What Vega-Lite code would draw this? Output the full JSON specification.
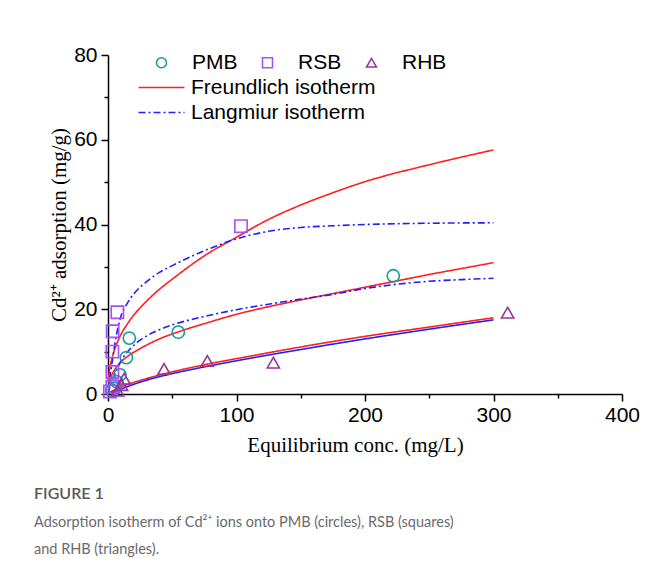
{
  "$schema": "https://vega.github.io/schema/vega-lite/v6.json",
  "autosize": {"type": "none"},
  "width": 514,
  "height": 339,
  "padding": {"left": 108, "top": 55, "right": 45, "bottom": 182},
  "background": "white",
  "title": {
    "text": "FIGURE 1",
    "subtitle": ["Adsorption isotherm of Cd²⁺ ions onto PMB (circles), RSB (squares)", "and RHB (triangles)."],
    "orient": "bottom",
    "anchor": "start",
    "frame": "group",
    "dx": -74,
    "offset": 31,
    "font": "Lato",
    "fontSize": 16,
    "fontWeight": 600,
    "color": "#595959",
    "subtitleFont": "Lato",
    "subtitleFontSize": 14.5,
    "subtitleColor": "#6a6a6a",
    "subtitleLineHeight": 27,
    "subtitlePadding": 14
  },
  "config": {
    "view": {"stroke": null},
    "axis": {
      "grid": false,
      "domainColor": "black",
      "domainWidth": 1.5,
      "tickColor": "black",
      "tickWidth": 1.5,
      "labelFont": "Liberation Sans",
      "labelFontSize": 21,
      "labelColor": "black",
      "labelFlush": false,
      "titleFont": "Liberation Serif",
      "titleFontSize": 21,
      "titleFontWeight": "normal",
      "titleColor": "black"
    },
    "legend": {
      "labelFontWeight": "normal",
      "labelLimit": 0
    }
  },
  "datasets": {
    "curves": [
      {"curve": "RSB-F", "model": "Freundlich isotherm", "x": 0.1, "y": 2.0},
      {"curve": "RSB-F", "model": "Freundlich isotherm", "x": 0.5, "y": 3.9},
      {"curve": "RSB-F", "model": "Freundlich isotherm", "x": 1, "y": 5.2},
      {"curve": "RSB-F", "model": "Freundlich isotherm", "x": 2, "y": 6.9},
      {"curve": "RSB-F", "model": "Freundlich isotherm", "x": 3.5, "y": 8.9},
      {"curve": "RSB-F", "model": "Freundlich isotherm", "x": 5.4, "y": 10.7},
      {"curve": "RSB-F", "model": "Freundlich isotherm", "x": 9.3, "y": 13.6},
      {"curve": "RSB-F", "model": "Freundlich isotherm", "x": 15, "y": 16.5},
      {"curve": "RSB-F", "model": "Freundlich isotherm", "x": 20, "y": 18.6},
      {"curve": "RSB-F", "model": "Freundlich isotherm", "x": 30, "y": 21.9},
      {"curve": "RSB-F", "model": "Freundlich isotherm", "x": 40, "y": 24.7},
      {"curve": "RSB-F", "model": "Freundlich isotherm", "x": 50, "y": 27.1},
      {"curve": "RSB-F", "model": "Freundlich isotherm", "x": 75, "y": 32.6},
      {"curve": "RSB-F", "model": "Freundlich isotherm", "x": 100, "y": 37.0},
      {"curve": "RSB-F", "model": "Freundlich isotherm", "x": 125, "y": 41.2},
      {"curve": "RSB-F", "model": "Freundlich isotherm", "x": 150, "y": 44.6},
      {"curve": "RSB-F", "model": "Freundlich isotherm", "x": 175, "y": 47.5},
      {"curve": "RSB-F", "model": "Freundlich isotherm", "x": 200, "y": 50.1},
      {"curve": "RSB-F", "model": "Freundlich isotherm", "x": 250, "y": 54.1},
      {"curve": "RSB-F", "model": "Freundlich isotherm", "x": 300, "y": 57.6},

      {"curve": "RSB-L", "model": "Langmiur isotherm", "x": 0, "y": 0},
      {"curve": "RSB-L", "model": "Langmiur isotherm", "x": 2, "y": 5},
      {"curve": "RSB-L", "model": "Langmiur isotherm", "x": 4, "y": 9},
      {"curve": "RSB-L", "model": "Langmiur isotherm", "x": 6, "y": 13},
      {"curve": "RSB-L", "model": "Langmiur isotherm", "x": 8, "y": 16},
      {"curve": "RSB-L", "model": "Langmiur isotherm", "x": 10, "y": 18.3},
      {"curve": "RSB-L", "model": "Langmiur isotherm", "x": 15, "y": 21.4},
      {"curve": "RSB-L", "model": "Langmiur isotherm", "x": 20, "y": 23.6},
      {"curve": "RSB-L", "model": "Langmiur isotherm", "x": 30, "y": 26.5},
      {"curve": "RSB-L", "model": "Langmiur isotherm", "x": 40, "y": 28.7},
      {"curve": "RSB-L", "model": "Langmiur isotherm", "x": 50, "y": 30.3},
      {"curve": "RSB-L", "model": "Langmiur isotherm", "x": 75, "y": 33.8},
      {"curve": "RSB-L", "model": "Langmiur isotherm", "x": 100, "y": 36.6},
      {"curve": "RSB-L", "model": "Langmiur isotherm", "x": 125, "y": 38.4},
      {"curve": "RSB-L", "model": "Langmiur isotherm", "x": 150, "y": 39.3},
      {"curve": "RSB-L", "model": "Langmiur isotherm", "x": 175, "y": 39.7},
      {"curve": "RSB-L", "model": "Langmiur isotherm", "x": 200, "y": 40.0},
      {"curve": "RSB-L", "model": "Langmiur isotherm", "x": 250, "y": 40.3},
      {"curve": "RSB-L", "model": "Langmiur isotherm", "x": 300, "y": 40.4},

      {"curve": "PMB-F", "model": "Freundlich isotherm", "x": 0.1, "y": 1.1},
      {"curve": "PMB-F", "model": "Freundlich isotherm", "x": 0.5, "y": 2.1},
      {"curve": "PMB-F", "model": "Freundlich isotherm", "x": 1, "y": 2.8},
      {"curve": "PMB-F", "model": "Freundlich isotherm", "x": 2, "y": 3.8},
      {"curve": "PMB-F", "model": "Freundlich isotherm", "x": 4, "y": 5.1},
      {"curve": "PMB-F", "model": "Freundlich isotherm", "x": 8, "y": 6.9},
      {"curve": "PMB-F", "model": "Freundlich isotherm", "x": 14.5, "y": 8.7},
      {"curve": "PMB-F", "model": "Freundlich isotherm", "x": 25, "y": 10.7},
      {"curve": "PMB-F", "model": "Freundlich isotherm", "x": 40, "y": 13.0},
      {"curve": "PMB-F", "model": "Freundlich isotherm", "x": 55, "y": 14.7},
      {"curve": "PMB-F", "model": "Freundlich isotherm", "x": 75, "y": 16.6},
      {"curve": "PMB-F", "model": "Freundlich isotherm", "x": 100, "y": 18.8},
      {"curve": "PMB-F", "model": "Freundlich isotherm", "x": 125, "y": 20.6},
      {"curve": "PMB-F", "model": "Freundlich isotherm", "x": 150, "y": 22.2},
      {"curve": "PMB-F", "model": "Freundlich isotherm", "x": 175, "y": 23.7},
      {"curve": "PMB-F", "model": "Freundlich isotherm", "x": 200, "y": 25.2},
      {"curve": "PMB-F", "model": "Freundlich isotherm", "x": 225, "y": 26.7},
      {"curve": "PMB-F", "model": "Freundlich isotherm", "x": 250, "y": 28.2},
      {"curve": "PMB-F", "model": "Freundlich isotherm", "x": 275, "y": 29.6},
      {"curve": "PMB-F", "model": "Freundlich isotherm", "x": 300, "y": 31.0},

      {"curve": "PMB-L", "model": "Langmiur isotherm", "x": 0, "y": 0},
      {"curve": "PMB-L", "model": "Langmiur isotherm", "x": 2, "y": 2.2},
      {"curve": "PMB-L", "model": "Langmiur isotherm", "x": 5, "y": 4.5},
      {"curve": "PMB-L", "model": "Langmiur isotherm", "x": 8, "y": 6.5},
      {"curve": "PMB-L", "model": "Langmiur isotherm", "x": 12, "y": 8.7},
      {"curve": "PMB-L", "model": "Langmiur isotherm", "x": 18, "y": 10.9},
      {"curve": "PMB-L", "model": "Langmiur isotherm", "x": 25, "y": 12.7},
      {"curve": "PMB-L", "model": "Langmiur isotherm", "x": 35, "y": 14.5},
      {"curve": "PMB-L", "model": "Langmiur isotherm", "x": 50, "y": 16.3},
      {"curve": "PMB-L", "model": "Langmiur isotherm", "x": 75, "y": 18.3},
      {"curve": "PMB-L", "model": "Langmiur isotherm", "x": 100, "y": 19.9},
      {"curve": "PMB-L", "model": "Langmiur isotherm", "x": 125, "y": 21.2},
      {"curve": "PMB-L", "model": "Langmiur isotherm", "x": 150, "y": 22.4},
      {"curve": "PMB-L", "model": "Langmiur isotherm", "x": 175, "y": 23.5},
      {"curve": "PMB-L", "model": "Langmiur isotherm", "x": 200, "y": 24.9},
      {"curve": "PMB-L", "model": "Langmiur isotherm", "x": 225, "y": 25.9},
      {"curve": "PMB-L", "model": "Langmiur isotherm", "x": 250, "y": 26.6},
      {"curve": "PMB-L", "model": "Langmiur isotherm", "x": 275, "y": 27.0},
      {"curve": "PMB-L", "model": "Langmiur isotherm", "x": 300, "y": 27.3},

      {"curve": "RHB-F", "model": "Freundlich isotherm", "x": 0.1, "y": 0.1},
      {"curve": "RHB-F", "model": "Freundlich isotherm", "x": 1, "y": 0.3},
      {"curve": "RHB-F", "model": "Freundlich isotherm", "x": 5, "y": 1.0},
      {"curve": "RHB-F", "model": "Freundlich isotherm", "x": 12, "y": 1.9},
      {"curve": "RHB-F", "model": "Freundlich isotherm", "x": 25, "y": 3.2},
      {"curve": "RHB-F", "model": "Freundlich isotherm", "x": 43, "y": 4.7},
      {"curve": "RHB-F", "model": "Freundlich isotherm", "x": 75, "y": 6.9},
      {"curve": "RHB-F", "model": "Freundlich isotherm", "x": 110, "y": 8.9},
      {"curve": "RHB-F", "model": "Freundlich isotherm", "x": 150, "y": 11.1},
      {"curve": "RHB-F", "model": "Freundlich isotherm", "x": 200, "y": 13.6},
      {"curve": "RHB-F", "model": "Freundlich isotherm", "x": 250, "y": 15.8},
      {"curve": "RHB-F", "model": "Freundlich isotherm", "x": 300, "y": 18.0},

      {"curve": "RHB-L", "model": "Langmiur isotherm", "x": 0, "y": 0},
      {"curve": "RHB-L", "model": "Langmiur isotherm", "x": 5, "y": 0.6},
      {"curve": "RHB-L", "model": "Langmiur isotherm", "x": 12, "y": 1.4},
      {"curve": "RHB-L", "model": "Langmiur isotherm", "x": 25, "y": 2.8},
      {"curve": "RHB-L", "model": "Langmiur isotherm", "x": 43, "y": 4.3},
      {"curve": "RHB-L", "model": "Langmiur isotherm", "x": 75, "y": 6.4},
      {"curve": "RHB-L", "model": "Langmiur isotherm", "x": 110, "y": 8.4},
      {"curve": "RHB-L", "model": "Langmiur isotherm", "x": 150, "y": 10.5},
      {"curve": "RHB-L", "model": "Langmiur isotherm", "x": 200, "y": 13.0},
      {"curve": "RHB-L", "model": "Langmiur isotherm", "x": 250, "y": 15.3},
      {"curve": "RHB-L", "model": "Langmiur isotherm", "x": 300, "y": 17.5}
    ],
    "points": [
      {"series": "PMB", "x": 2.9, "y": 0.9},
      {"series": "PMB", "x": 5.4, "y": 1.3},
      {"series": "PMB", "x": 6.8, "y": 2.9},
      {"series": "PMB", "x": 9.3, "y": 4.5},
      {"series": "PMB", "x": 14.3, "y": 8.6},
      {"series": "PMB", "x": 16.6, "y": 13.2},
      {"series": "PMB", "x": 54.7, "y": 14.6},
      {"series": "PMB", "x": 222, "y": 27.9},
      {"series": "RSB", "x": 1.5, "y": 0.6},
      {"series": "RSB", "x": 3.4, "y": 1.7},
      {"series": "RSB", "x": 3.4, "y": 5.2},
      {"series": "RSB", "x": 3.4, "y": 10.0},
      {"series": "RSB", "x": 3.6, "y": 14.8},
      {"series": "RSB", "x": 7.3, "y": 19.3},
      {"series": "RSB", "x": 103.5, "y": 39.6},
      {"series": "RHB", "x": 7.5, "y": 0.8},
      {"series": "RHB", "x": 10.6, "y": 2.1},
      {"series": "RHB", "x": 12.5, "y": 3.6},
      {"series": "RHB", "x": 43.6, "y": 5.9},
      {"series": "RHB", "x": 77.3, "y": 7.8},
      {"series": "RHB", "x": 128.7, "y": 7.4},
      {"series": "RHB", "x": 311, "y": 19.2}
    ]
  },
  "encoding": {
    "x": {
      "field": "x", "type": "quantitative",
      "scale": {"domain": [0, 400], "nice": false},
      "axis": {
        "title": "Equilibrium conc. (mg/L)",
        "values": [0, 50, 100, 150, 200, 250, 300, 350, 400],
        "labelExpr": "datum.value % 100 === 0 ? datum.label : ''",
        "tickSize": {"condition": {"test": "datum.value % 100 === 0", "value": 7}, "value": 4},
        "labelPadding": 3,
        "titlePadding": 9,
        "titleX": 247
      }
    },
    "y": {
      "field": "y", "type": "quantitative",
      "scale": {"domain": [0, 80], "nice": false},
      "axis": {
        "title": "Cd²⁺ adsorption (mg/g)",
        "values": [0, 10, 20, 30, 40, 50, 60, 70, 80],
        "labelExpr": "datum.value % 20 === 0 ? datum.label : ''",
        "tickSize": {"condition": {"test": "datum.value % 20 === 0", "value": 7}, "value": 4},
        "labelPadding": 4,
        "titlePadding": 4
      }
    }
  },
  "layer": [
    {
      "data": {"name": "curves"},
      "mark": {"type": "line", "strokeWidth": 1.6, "interpolate": "monotone", "clip": true},
      "encoding": {
        "detail": {"field": "curve"},
        "color": {
          "field": "model", "type": "nominal",
          "scale": {"domain": ["Freundlich isotherm", "Langmiur isotherm"], "range": ["#ff1f1f", "#1f1fff"]},
          "legend": {
            "title": null,
            "orient": "none",
            "legendX": 43,
            "legendY": 22,
            "direction": "vertical",
            "symbolType": "M-4.6,0H4.6",
            "symbolSize": 100,
            "symbolStrokeWidth": 1.6,
            "labelFont": "Liberation Sans",
            "labelFontSize": 21,
            "labelColor": "black",
            "labelOffset": 19,
            "rowPadding": 3,
            "encode": {
              "symbols": {
                "update": {
                  "strokeDash": {"signal": "datum.label === 'Langmiur isotherm' ? [7, 3, 2, 3] : [1, 0]"}
                }
              }
            }
          }
        },
        "strokeDash": {
          "field": "curve", "type": "nominal",
          "scale": {
            "domain": ["RSB-F", "RSB-L", "PMB-F", "PMB-L", "RHB-F", "RHB-L"],
            "range": [[1, 0], [7, 3, 2, 3], [1, 0], [7, 3, 2, 3], [1, 0], [1, 0]]
          },
          "legend": null
        }
      }
    },
    {
      "data": {"name": "points"},
      "mark": {"type": "point", "filled": false, "strokeWidth": 1.6, "size": 150, "opacity": 1},
      "encoding": {
        "shape": {
          "field": "series", "type": "nominal",
          "scale": {"domain": ["PMB", "RSB", "RHB"], "range": ["circle", "square", "triangle-up"]},
          "legend": {
            "title": null,
            "orient": "none",
            "legendX": 43,
            "legendY": -3,
            "direction": "horizontal",
            "symbolSize": 100,
            "symbolStrokeWidth": 1.5,
            "labelFont": "Liberation Sans",
            "labelFontSize": 21,
            "labelColor": "black",
            "labelOffset": 20,
            "columnPadding": 19
          }
        },
        "color": {
          "field": "series", "type": "nominal",
          "scale": {"domain": ["PMB", "RSB", "RHB"], "range": ["#179a9a", "#a64dff", "#993399"]},
          "legend": {
            "title": null,
            "orient": "none",
            "legendX": 43,
            "legendY": -3,
            "direction": "horizontal",
            "symbolSize": 100,
            "symbolStrokeWidth": 1.5,
            "labelFont": "Liberation Sans",
            "labelFontSize": 21,
            "labelColor": "black",
            "labelOffset": 20,
            "columnPadding": 19
          }
        }
      }
    }
  ],
  "resolve": {"scale": {"color": "independent", "shape": "independent", "strokeDash": "independent"}}
}
